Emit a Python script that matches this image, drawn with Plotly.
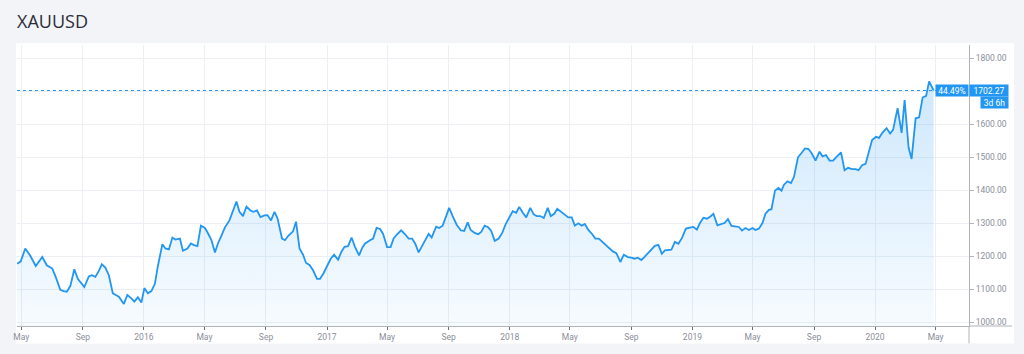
import plotly.graph_objects as go

# ---- data (weekly XAUUSD closes) ----
dates = [
    "2015-04-23", "2015-04-30", "2015-05-09", "2015-05-19", "2015-05-30", "2015-06-12", "2015-06-21",
    "2015-07-02", "2015-07-09", "2015-07-18", "2015-07-25", "2015-07-31", "2015-08-07", "2015-08-15",
    "2015-08-22", "2015-08-28", "2015-09-04", "2015-09-13", "2015-09-19", "2015-09-26", "2015-10-03",
    "2015-10-09", "2015-10-16", "2015-10-23", "2015-10-31", "2015-11-06", "2015-11-12", "2015-11-22",
    "2015-11-29", "2015-12-07", "2015-12-13", "2015-12-20", "2015-12-27", "2016-01-02", "2016-01-09",
    "2016-01-16", "2016-01-23", "2016-01-29", "2016-02-07", "2016-02-13", "2016-02-20", "2016-02-27",
    "2016-03-04", "2016-03-13", "2016-03-19", "2016-03-28", "2016-04-04", "2016-04-10", "2016-04-17",
    "2016-04-24", "2016-05-02", "2016-05-08", "2016-05-15", "2016-05-22", "2016-05-28", "2016-06-04",
    "2016-06-11", "2016-06-20", "2016-06-26", "2016-07-04", "2016-07-10", "2016-07-17", "2016-07-24",
    "2016-08-01", "2016-08-07", "2016-08-14", "2016-08-21", "2016-08-29", "2016-09-04", "2016-09-11",
    "2016-09-18", "2016-09-24", "2016-10-03", "2016-10-09", "2016-10-16", "2016-10-25", "2016-10-31",
    "2016-11-07", "2016-11-14", "2016-11-20", "2016-11-27", "2016-12-04", "2016-12-12", "2016-12-18",
    "2016-12-25", "2017-01-01", "2017-01-08", "2017-01-15", "2017-01-23", "2017-01-30", "2017-02-05",
    "2017-02-12",
    "2017-02-19", "2017-02-26", "2017-03-06", "2017-03-12", "2017-03-18", "2017-03-28", "2017-04-03",
    "2017-04-10", "2017-04-17", "2017-04-23", "2017-05-01", "2017-05-08", "2017-05-14", "2017-05-21",
    "2017-05-29", "2017-06-06", "2017-06-13", "2017-06-20", "2017-06-26", "2017-07-03", "2017-07-09",
    "2017-07-16", "2017-07-23", "2017-07-29", "2017-08-07", "2017-08-13", "2017-08-20", "2017-08-27",
    "2017-09-02", "2017-09-09", "2017-09-17", "2017-09-25", "2017-10-02", "2017-10-09", "2017-10-15",
    "2017-10-23", "2017-10-30", "2017-11-05", "2017-11-12", "2017-11-19", "2017-11-25", "2017-12-02",
    "2017-12-10", "2017-12-17", "2017-12-24", "2018-01-01", "2018-01-07", "2018-01-14", "2018-01-20",
    "2018-01-27", "2018-02-03", "2018-02-11", "2018-02-18", "2018-02-24", "2018-03-03", "2018-03-10",
    "2018-03-18", "2018-03-24", "2018-03-31", "2018-04-06", "2018-04-13", "2018-04-20", "2018-04-28",
    "2018-05-05", "2018-05-11", "2018-05-18", "2018-05-25", "2018-05-31", "2018-06-07", "2018-06-15",
    "2018-06-21", "2018-06-28", "2018-07-05", "2018-07-11", "2018-07-18", "2018-07-26", "2018-08-02",
    "2018-08-10", "2018-08-17", "2018-08-25", "2018-09-01", "2018-09-07", "2018-09-14", "2018-09-21",
    "2018-09-27", "2018-10-05", "2018-10-12", "2018-10-18", "2018-10-25", "2018-11-01", "2018-11-07",
    "2018-11-14", "2018-11-20", "2018-11-27", "2018-12-04",
    "2018-12-11", "2018-12-19", "2018-12-27", "2019-01-03", "2019-01-10", "2019-01-16", "2019-01-23",
    "2019-01-30", "2019-02-06", "2019-02-12", "2019-02-20", "2019-02-27", "2019-03-06", "2019-03-13",
    "2019-03-20", "2019-03-27", "2019-04-04", "2019-04-10", "2019-04-17", "2019-04-24", "2019-05-01",
    "2019-05-07", "2019-05-14", "2019-05-21", "2019-05-27", "2019-06-03", "2019-06-08", "2019-06-15",
    "2019-06-22", "2019-06-28", "2019-07-03", "2019-07-10", "2019-07-17", "2019-07-23", "2019-07-31",
    "2019-08-07", "2019-08-14", "2019-08-21", "2019-08-27", "2019-09-04", "2019-09-12", "2019-09-18",
    "2019-09-25", "2019-10-02", "2019-10-09", "2019-10-15", "2019-10-25", "2019-11-01", "2019-11-08",
    "2019-11-16", "2019-11-23", "2019-11-29", "2019-12-06", "2019-12-13", "2019-12-19", "2019-12-26",
    "2020-01-03", "2020-01-09", "2020-01-16", "2020-01-24", "2020-01-31", "2020-02-06", "2020-02-15",
    "2020-02-23", "2020-02-29", "2020-03-08", "2020-03-14", "2020-03-22", "2020-03-29", "2020-04-05",
    "2020-04-12", "2020-04-18", "2020-04-27",
]

prices = [
    1178, 1185, 1224, 1202, 1171, 1198, 1173,
    1163, 1137, 1099, 1095, 1093, 1110, 1161,
    1132, 1120, 1107, 1139, 1143, 1138, 1156,
    1176, 1166, 1143, 1088, 1083, 1078, 1056,
    1083, 1073, 1063, 1076, 1060, 1104, 1088,
    1095, 1117, 1171, 1237, 1224, 1221, 1257,
    1251, 1254, 1217, 1224, 1239, 1234, 1231,
    1293, 1286, 1270, 1249, 1212, 1239, 1263,
    1288, 1309, 1332, 1366, 1335, 1322, 1351,
    1339, 1335, 1339, 1319, 1324, 1325, 1309,
    1335, 1315, 1254, 1249, 1263, 1276, 1305,
    1224, 1205, 1180, 1174, 1158, 1132, 1132,
    1149, 1171, 1192, 1205, 1190, 1215, 1229,
    1231,
    1257, 1228, 1203, 1225, 1239, 1249, 1254,
    1286, 1283, 1268, 1228, 1228, 1254, 1267,
    1279, 1267, 1254, 1254, 1239, 1212, 1228,
    1251, 1268, 1257, 1290, 1286, 1293, 1322,
    1347, 1322, 1296, 1279, 1277, 1303, 1280,
    1271, 1267, 1274, 1293, 1288, 1277, 1247,
    1254, 1271, 1298, 1320, 1337, 1332, 1350,
    1332, 1318, 1347, 1327, 1322, 1322, 1316,
    1347, 1322, 1329, 1344, 1335, 1327, 1318,
    1318, 1293, 1300, 1293, 1298, 1280, 1267,
    1254, 1254, 1244, 1235, 1225, 1215, 1210,
    1183, 1205, 1198, 1196, 1193, 1196, 1189,
    1198, 1210, 1222, 1232, 1235, 1208, 1218,
    1220, 1220, 1244, 1238,
    1255, 1284, 1287, 1289, 1281, 1301, 1317,
    1314, 1321, 1329, 1294, 1297, 1301, 1313,
    1292, 1291, 1289, 1278, 1286, 1280, 1286,
    1280, 1284, 1301, 1329, 1341, 1343, 1399,
    1407, 1399, 1417, 1427, 1422, 1441, 1500,
    1513, 1527, 1525, 1513, 1490, 1517, 1503,
    1507, 1490, 1490, 1500, 1515, 1461, 1468,
    1464, 1464, 1461, 1476, 1480, 1515, 1552,
    1562, 1559, 1575, 1588, 1572, 1583, 1649,
    1574, 1673, 1529, 1495, 1618, 1621, 1681,
    1686, 1730, 1702.27,
]

x_tick_vals = ["2015-05-01", "2015-09-01", "2016-01-01", "2016-05-01", "2016-09-01", "2017-01-01",
               "2017-05-01", "2017-09-01", "2018-01-01", "2018-05-01", "2018-09-01", "2019-01-01",
               "2019-05-01", "2019-09-01", "2020-01-01", "2020-05-01"]
x_tick_text = ["May", "Sep", "2016", "May", "Sep", "2017", "May", "Sep", "2018", "May", "Sep",
               "2019", "May", "Sep", "2020", "May"]
y_tick_vals = [1000, 1100, 1200, 1300, 1400, 1500, 1600, 1700, 1800]
# the 1700 label is covered by the last-price label in the reference
y_tick_text = ["1000.00", "1100.00", "1200.00", "1300.00", "1400.00", "1500.00", "1600.00", "",
               "1800.00"]

symbol = "XAUUSD"
last_price = prices[-1]
change_text = "44.49%"
countdown_text = "3d 6h"

BLUE = "#2196F3"
GRID = "#eceff4"
AXIS = "#b0b3bc"
TICKC = "#8a8e99"

fig = go.Figure()
fig.add_trace(go.Scatter(
    x=dates, y=prices, mode="lines",
    line=dict(color=BLUE, width=1.8),
    fill="tozeroy",
    fillgradient=dict(
        type="vertical", start=990, stop=1740,
        colorscale=[[0, "rgba(33,150,243,0.03)"], [1, "rgba(33,150,243,0.22)"]],
    ),
    hoverinfo="skip", showlegend=False,
))

W, H = 1024, 354
L, R, T, B = 17, 55, 45, 18
pw, ph = W - L - R, H - T - B

def px_x(p):
    return (p - L) / pw

def px_y(p):
    return (H - B - p) / ph

shapes = [
    # white panel
    dict(type="rect", xref="paper", yref="paper", x0=px_x(16), x1=px_x(1014), y0=px_y(354), y1=px_y(43),
         fillcolor="white", line=dict(width=0), layer="below"),
    # last price dotted line
    dict(type="line", xref="paper", yref="y", x0=0, x1=1, y0=last_price, y1=last_price,
         line=dict(color=BLUE, width=1, dash="dot")),
    # x axis line extension to right
    dict(type="line", xref="paper", yref="paper", x0=1, x1=px_x(1012), y0=0, y1=0,
         line=dict(color=AXIS, width=1)),
    # y axis line extension below
    dict(type="line", xref="paper", yref="paper", x0=1, x1=1, y0=0, y1=px_y(354),
         line=dict(color=AXIS, width=1)),
]

annotations = [
    dict(text=symbol, xref="paper", yref="paper", x=px_x(15), y=px_y(20), xanchor="left",
         yanchor="middle", showarrow=False,
         font=dict(family="Open Sans", size=18, color="#2a2e39")),
    dict(text=change_text, xref="paper", yref="y", x=px_x(952), y=last_price, xanchor="center",
         yanchor="middle", showarrow=False, bgcolor=BLUE, width=32, height=11, borderpad=0,
         font=dict(family="Roboto", size=8.5, color="white")),
    dict(text=f"{last_price:.2f}", xref="paper", yref="y", x=px_x(989), y=last_price,
         xanchor="center", yanchor="middle", showarrow=False, bgcolor=BLUE, width=38, height=11,
         borderpad=0, font=dict(family="Roboto", size=8.5, color="white")),
    dict(text=countdown_text, xref="paper", yref="paper", x=px_x(994.5), y=px_y(105),
         xanchor="center", yanchor="middle", showarrow=False, bgcolor=BLUE, width=27, height=11,
         borderpad=0, font=dict(family="Roboto", size=8.5, color="white")),
]

fig.update_layout(
    width=W, height=H,
    margin=dict(l=L, r=R, t=T, b=B, pad=0),
    paper_bgcolor="#f3f4f8",
    plot_bgcolor="white",
    shapes=shapes,
    annotations=annotations,
    xaxis=dict(
        type="date", range=["2015-04-22 12:00", "2020-07-06 16:00"],
        tickvals=x_tick_vals, ticktext=x_tick_text,
        showgrid=True, gridcolor=GRID, gridwidth=1,
        ticks="outside", ticklen=3, tickcolor="#6a6d78",
        showline=True, linecolor=AXIS, linewidth=1,
        tickfont=dict(family="Roboto", size=8.5, color=TICKC),
        zeroline=False, fixedrange=True,
    ),
    yaxis=dict(
        side="right", range=[989.2, 1840],
        tickvals=y_tick_vals, ticktext=y_tick_text,
        showgrid=True, gridcolor=GRID, gridwidth=1,
        ticks="outside", ticklen=4, tickcolor=AXIS,
        showline=True, linecolor=AXIS, linewidth=1,
        tickfont=dict(family="Roboto", size=8.5, color=TICKC),
        zeroline=False, fixedrange=True,
    ),
)

fig.write_html("out.html")
